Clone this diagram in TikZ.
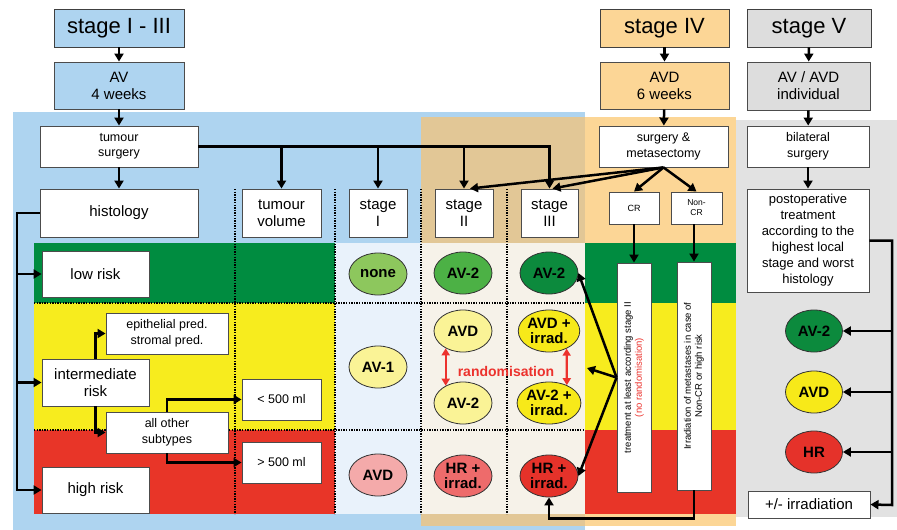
\documentclass[tikz,border=0pt]{standalone}
\usepackage{fontspec}
\setmainfont{Liberation Sans}
\usetikzlibrary{arrows.meta, shapes.geometric}

\definecolor{skyblue}{RGB}{174,212,240}
\definecolor{peach}{RGB}{252,214,150}
\definecolor{bgtan}{RGB}{226,199,150}
\definecolor{bggrey}{RGB}{226,226,226}
\definecolor{titlegrey}{RGB}{221,221,221}
\definecolor{riskgreen}{RGB}{0,140,64}
\definecolor{riskyellow}{RGB}{247,236,30}
\definecolor{riskred}{RGB}{232,53,40}
\definecolor{paleblue}{RGB}{233,242,251}
\definecolor{cream}{RGB}{246,242,233}
\definecolor{ovlgreen}{RGB}{141,199,93}
\definecolor{ovmgreen}{RGB}{76,177,69}
\definecolor{ovdgreen}{RGB}{12,138,61}
\definecolor{ovlyellow}{RGB}{250,243,150}
\definecolor{ovyellow}{RGB}{247,233,25}
\definecolor{ovpink}{RGB}{244,170,170}
\definecolor{ovsalmon}{RGB}{238,107,107}
\definecolor{ovred}{RGB}{229,50,42}
\definecolor{randred}{RGB}{236,50,45}

\begin{document}
\begin{tikzpicture}[x=1pt, y=-1pt,
  box/.style={draw=black!70, line width=0.9pt, fill=white, inner sep=0pt, align=center,
    font=\fontsize{15}{17}\selectfont},
  smallbox/.style={box, font=\fontsize{12.5}{15.5}\selectfont},
  ttl/.style={draw=black!75, line width=0.9pt, inner sep=0pt, font=\fontsize{22}{24}\selectfont},
  oval/.style={ellipse, draw=black!80, line width=0.8pt, minimum width=58pt, minimum height=42pt,
    inner sep=0pt, align=center, font=\bfseries\fontsize{15}{15.5}\selectfont},
  flow/.style={line width=2.5pt, -{Triangle[length=8pt,width=9pt]}},
  randarrow/.style={draw=randred, line width=2.3pt,
    {Triangle[length=7pt,width=8pt]}-{Triangle[length=7pt,width=8pt]}},
  grid/.style={dash pattern=on 1.3pt off 1.3pt, line width=1.3pt},
]
  \useasboundingbox (0,0) rectangle (897,530);

  % backgrounds
  \fill[skyblue] (13,112) rectangle (585,530);
  \fill[peach] (585,117) rectangle (736,526);
  \fill[bgtan] (421,117) rectangle (585,526);
  \fill[bggrey] (736,120) rectangle (897,517);

  \fill[riskgreen] (34,243) rectangle (335,303);
  \fill[riskyellow] (34,303) rectangle (335,430);
  \fill[riskred] (34,430) rectangle (335,514);
  \fill[paleblue] (335,243) rectangle (421,514);
  \fill[cream] (421,243) rectangle (585,514);
  \fill[riskgreen] (585,243) rectangle (736,303);
  \fill[riskyellow] (585,303) rectangle (736,430);
  \fill[riskred] (585,430) rectangle (736,514);

  \foreach \gx in {235,335,421,507}
    \draw[grid] (\gx,189) -- (\gx,514);
  \foreach \gy in {303,430}
    \draw[grid] (34,\gy) -- (585,\gy);

  % stage I - III
  \node[ttl, fill=skyblue, minimum width=130pt, minimum height=38pt] (s13) at (119,28) {stage I - III};
  \node[box, fill=skyblue, minimum width=130pt, minimum height=47pt] (av4) at (119,85.5) {AV\\4 weeks};
  \node[smallbox, minimum width=158pt, minimum height=41pt] (tsurg) at (119,146.5) {tumour\\surgery};
  \node[box, minimum width=158pt, minimum height=48pt] (hist) at (119,213) {histology};
  \node[box, minimum width=79pt, minimum height=48pt] (tvol) at (281.5,213) {tumour\\volume};
  \node[box, minimum width=58pt, minimum height=48pt] (st1) at (378,213) {stage\\I};
  \node[box, minimum width=58pt, minimum height=48pt] (st2) at (464,213) {stage\\II};
  \node[box, minimum width=57pt, minimum height=48pt] (st3) at (549.5,213) {stage\\III};

  \node[box, minimum width=107pt, minimum height=46pt] (low) at (95.5,274) {low risk};
  \node[box, minimum width=107pt, minimum height=47pt] (inter) at (95.5,382.5) {intermediate\\risk};
  \node[box, minimum width=107pt, minimum height=46pt] (high) at (95.5,490) {high risk};
  \node[smallbox, minimum width=122pt, minimum height=41pt] (epi) at (167,333.5) {epithelial pred.\\stromal pred.};
  \node[smallbox, minimum width=122pt, minimum height=41pt] (other) at (167,432.5) {all other\\subtypes};
  \node[smallbox, minimum width=79pt, minimum height=41pt] (lt500) at (281.5,399.5) {< 500 ml};
  \node[smallbox, minimum width=79pt, minimum height=41pt] (gt500) at (281.5,462.5) {> 500 ml};

  \node[oval, fill=ovlgreen] (e1a) at (378,274) {none};
  \node[oval, fill=ovlyellow] (e1b) at (378,367) {AV-1};
  \node[oval, fill=ovpink] (e1c) at (378,475) {AVD};
  \node[oval, fill=ovmgreen] (e2a) at (463,273) {AV-2};
  \node[oval, fill=ovlyellow] (e2b) at (463,331) {AVD};
  \node[oval, fill=ovlyellow] (e2c) at (463,403) {AV-2};
  \node[oval, fill=ovsalmon] (e2d) at (463,476) {HR +\\irrad.};
  \node[oval, fill=ovdgreen] (e3a) at (549,273) {AV-2};
  \node[oval, fill=ovyellow] (e3b) at (549,331) {AVD +\\irrad.};
  \node[oval, fill=ovyellow] (e3c) at (549,403) {AV-2 +\\irrad.};
  \node[oval, fill=ovred] (e3d) at (549,476) {HR +\\irrad.};
  \node[font=\bfseries\fontsize{14}{16}\selectfont, text=randred] (rnd) at (506,371) {randomisation};

  % stage IV
  \node[ttl, fill=peach, minimum width=129pt, minimum height=38pt] (s4) at (664.5,28) {stage IV};
  \node[box, fill=peach, minimum width=129pt, minimum height=47pt] (avd6) at (664.5,85.5) {AVD\\6 weeks};
  \node[smallbox, minimum width=129pt, minimum height=41pt] (smet) at (663.5,146.5) {surgery \&\\metasectomy};
  \node[box, font=\fontsize{9}{10}\selectfont, minimum width=50pt, minimum height=32pt] (cr) at (634,208) {CR};
  \node[box, font=\fontsize{8.5}{10}\selectfont, minimum width=51pt, minimum height=32pt] (ncr) at (696.5,208) {Non-\\CR};
  \node[box, minimum width=34pt, minimum height=229pt] (treat) at (634,377.5) {};
  \node[rotate=90, align=center, font=\fontsize{9.5}{11}\selectfont] (treattxt) at (treat)
    {treatment at least according stage II\\{\color{randred}(no randomisation)}};
  \node[box, minimum width=34pt, minimum height=228pt] (irr) at (694,376) {};
  \node[rotate=90, align=center, font=\fontsize{9.5}{11}\selectfont] (irrtxt) at (irr)
    {Irradiation of metastases in case of\\Non-CR or high risk};

  % stage V
  \node[ttl, fill=titlegrey, minimum width=124pt, minimum height=38pt] (s5) at (809,28) {stage V};
  \node[box, fill=titlegrey, minimum width=123pt, minimum height=48pt] (avind) at (808.5,86) {AV / AVD\\individual};
  \node[smallbox, minimum width=122pt, minimum height=41pt] (bsurg) at (808,146.5) {bilateral\\surgery};
  \node[box, font=\fontsize{13}{16}\selectfont, minimum width=122pt, minimum height=103pt] (postop) at (808,240.5)
    {postoperative\\treatment\\according to the\\highest local\\stage and worst\\histology};
  \node[oval, fill=ovdgreen, minimum width=57pt] (e5a) at (814,331) {AV-2};
  \node[oval, fill=ovyellow, minimum width=57pt] (e5b) at (814,392) {AVD};
  \node[oval, fill=ovred, minimum width=57pt] (e5c) at (814,452) {HR};
  \node[box, minimum width=122pt, minimum height=27pt] (pmirr) at (809,504.5) {+/- irradiation};

  \coordinate (lbus) at (17,490);
  \coordinate (rbus) at (892,505);
  \coordinate (rndpt) at (587,368);

  % connectors
  \draw[flow] (s13) -- (av4);
  \draw[flow] (av4) -- (tsurg);
  \draw[flow] (tsurg) -- (hist);
  \draw[flow] (tsurg.east) -| (st3.north);
  \draw[flow] (tsurg.east -| tvol.north) -- (tvol.north);
  \draw[flow] (tsurg.east -| st1.north) -- (st1.north);
  \draw[flow] (tsurg.east -| st2.north) -- (st2.north);

  \draw[flow] (hist.west) -| (lbus) -- (high.west);
  \draw[flow] (lbus |- low.west) -- (low.west);
  \draw[flow] (lbus |- inter.west) -- (inter.west);
  \draw[flow] (inter.north) |- (epi.west);
  \draw[flow] (inter.south) |- (other.west);
  \draw[flow] (other.north) |- (lt500.west);
  \draw[flow] (other.south) |- (gt500.west);

  \draw[randarrow] (e2b.225) -- (e2c.135);
  \draw[randarrow] (e3b.-45) -- (e3c.45);

  \draw[flow] (s4) -- (avd6);
  \draw[flow] (avd6) -- (smet);
  \draw[flow] (smet.south) -- ([xshift=6pt]st2.north);
  \draw[flow] (smet.south) -- ([xshift=3pt]st3.north);
  \draw[flow] (smet.south) -- (cr.north);
  \draw[flow] (smet.south) -- (ncr.north);
  \draw[flow] (cr.south) -- (treat.north);
  \draw[flow] (ncr.south -| irr.north) -- (irr.north);
  \draw[flow] (treat.west) -- (e3a.east);
  \draw[flow] (treat.west) -- (rndpt);
  \draw[flow] (treat.west) -- (e3d.east);
  \draw[flow] (irr.south) |- ([yshift=-21pt]e3d.south) -- (e3d.south);

  \draw[flow] (s5) -- (avind);
  \draw[flow] (avind) -- (bsurg);
  \draw[flow] (bsurg) -- (postop);
  \draw[flow] (postop.east) -| (rbus) -- (pmirr.east);
  \draw[flow] (rbus |- e5a.east) -- (e5a.east);
  \draw[flow] (rbus |- e5b.east) -- (e5b.east);
  \draw[flow] (rbus |- e5c.east) -- (e5c.east);
\end{tikzpicture}
\end{document}
